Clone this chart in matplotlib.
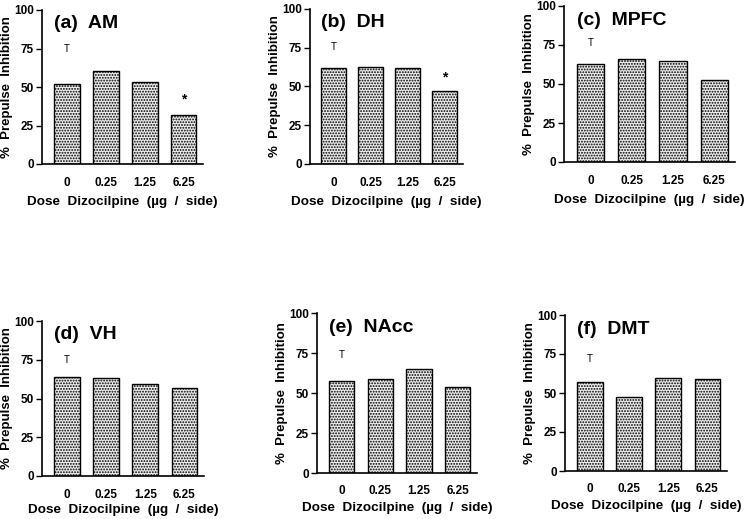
import matplotlib
matplotlib.use("Agg")
import matplotlib.pyplot as plt

plt.rcParams['font.family'] = ['Liberation Sans', 'DejaVu Sans']
plt.rcParams['hatch.linewidth'] = 0.9

doses = ['0', '0.25', '1.25', '6.25']
titles = ['(a)  AM', '(b)  DH', '(c)  MPFC', '(d)  VH', '(e)  NAcc', '(f)  DMT']
am   = [52.0, 60.7, 53.1, 31.7]
dh   = [62.2, 62.8, 61.7, 47.1]
mpfc = [62.7, 66.0, 64.7, 52.5]
vh   = [63.9, 63.2, 59.1, 57.0]
nacc = [57.5, 59.0, 65.3, 53.8]
dmt  = [57.0, 47.5, 59.7, 59.1]
values = [am, dh, mpfc, vh, nacc, dmt]
t_mark = [75, 75.5, 76, 74.6, 73.8, 72]   # "T" above the 0 dose bar
stars = {0: 42, 1: 56}                    # panel -> y of "*" over 6.25 dose

# axes boxes in pixels: left, right, top(100), bottom(0), xlabel offset
W, H = 747, 519
boxes = [(42, 203, 10, 164, 38), (310, 463, 9, 164, 38), (564, 735, 6, 162, 38),
         (42, 204, 321, 476, 34), (317, 477, 313, 473, 35), (565, 727, 315, 471, 35)]

fig = plt.figure(figsize=(W / 100, H / 100), dpi=100)
for i, (l, r, t, b, xoff) in enumerate(boxes):
    ax = fig.add_axes([l / W, (H - b) / H, (r - l) / W, (b - t) / H])
    x = range(len(doses))
    ax.bar(x, values[i], width=0.66, facecolor='#ececec', edgecolor='black',
           hatch='......', linewidth=1.0)
    ax.set_xlim(-0.64, 3.5)
    ax.set_ylim(0, 100)
    ax.spines['top'].set_visible(False)
    ax.spines['right'].set_visible(False)
    ax.spines['left'].set_linewidth(1.2)
    ax.spines['bottom'].set_linewidth(1.2)
    ax.set_yticks([0, 25, 50, 75, 100])
    ax.tick_params(axis='y', direction='out', length=4, width=1, labelsize=8.5, pad=2)
    ax.tick_params(axis='x', length=0, labelsize=8.5, pad=9)
    ax.set_xticks(list(x))
    ax.set_xticklabels(doses)
    for lab in ax.get_xticklabels() + ax.get_yticklabels():
        lab.set_fontweight('bold')
    ax.set_xlabel('Dose  Dizocilpine  (\u00b5g  /  side)', fontsize=9.7,
                  fontweight='bold', va='center')
    ax.set_ylabel('%  Prepulse  Inhibition', fontsize=9.5, fontweight='bold',
                  va='center')
    ax.xaxis.set_label_coords(0.5, -xoff / (b - t))
    ax.yaxis.set_label_coords(-35 / (r - l), 0.5)
    ax.text(-0.33, 91, titles[i], fontsize=14, fontweight='bold', va='center', ha='left')
    ax.text(0, t_mark[i], 'T', fontsize=7, ha='center', va='center')
    if i in stars:
        ax.text(3, stars[i], '*', fontsize=10, fontweight='bold', ha='center', va='center')

fig.savefig('out.png', dpi=100)
